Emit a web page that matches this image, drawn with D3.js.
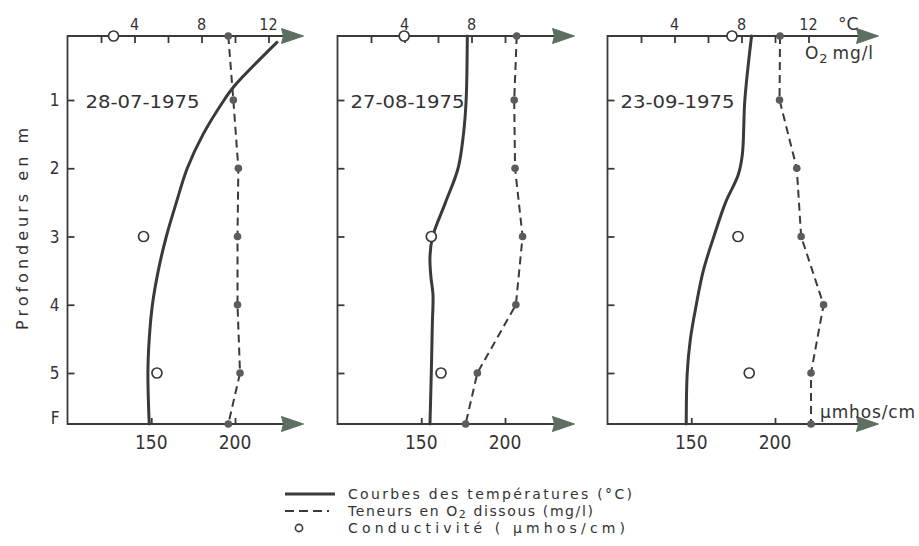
<!DOCTYPE html>
<html>
<head>
<meta charset="utf-8">
<script src="https://cdn.jsdelivr.net/npm/d3@7/dist/d3.min.js"></script>
<style>
  html, body { margin: 0; padding: 0; background: #ffffff; }
  svg { display: block; }
  text { font-family: "DejaVu Sans", "Liberation Sans", sans-serif; fill: #333; }
  .num { font-stretch: condensed; }
</style>
</head>
<body>
<svg id="chart" width="919" height="546"></svg>
<script>
// Sampling dates, one profile per panel
const dates = ["28-07-1975", "27-08-1975", "23-09-1975"];

// Depth levels of the measurements (m); 5.75 stands for the bottom "F" (fond)
const depthLevels = [0, 1, 2, 3, 4, 5, 5.75];
const depthTicks = [1, 2, 3, 4, 5, 5.75];
const depthTickLabels = ["1", "2", "3", "4", "5", "F"];

// Top axis ticks (°C and mg/l share the same scale)
const topTicks = [2, 4, 6, 8, 10, 12];
const topTicksP2 = [2, 4, 6, 8, 10];
const topLabels = [4, 8, 12];
const topLabelsP2 = [4, 8];

// Bottom axis ticks (conductivity, µmhos/cm)
const condTicks = [150, 200];

// Dissolved oxygen (mg/l) at depthLevels
const o2P1 = [9.6, 9.9, 10.2, 10.15, 10.15, 10.3, 9.6];
const o2P2 = [10.7, 10.55, 10.6, 11.05, 10.65, 8.35, 7.65];
const o2P3 = [10.3, 10.27, 11.3, 11.56, 12.9, 12.15, 12.15];

// Conductivity (µmhos/cm) measured at 0, 3 and 5 m
const condDepths = [0, 3, 5];
const condP1 = [127.5, 145.4, 153.4];
const condP2 = [139.8, 156, 161.8];
const condP3 = [174.3, 177.9, 184.6];

// Temperature profiles (°C): [depth, temperature]
const tempP1 = [[0.1, 12.5], [0.8, 9.9], [1, 9.35], [1.5, 8.1], [2, 7.15], [2.5, 6.5], [3, 5.9],
                [3.5, 5.42], [4, 5.07], [4.5, 4.88], [5, 4.8], [5.75, 4.88]];
const tempP2 = [[0, 7.75], [1, 7.68], [1.5, 7.52], [2, 7.2], [2.5, 6.45], [3, 5.68], [3.3, 5.52],
                [3.6, 5.58], [3.85, 5.7], [4.3, 5.66], [5, 5.6], [5.75, 5.52]];
const tempP3 = [[0, 8.6], [1, 8.2], [1.8, 8.05], [2.1, 7.8], [2.5, 7.05], [3, 6.35], [3.5, 5.72],
                [4, 5.3], [4.5, 4.95], [5, 4.76], [5.75, 4.7]];

const panels = [
  { date: dates[0], o2: o2P1, cond: condP1, temp: tempP1, ticks: topTicks, labels: topLabels, x0: 67.5, len: 236, dateDx: 18 },
  { date: dates[1], o2: o2P2, cond: condP2, temp: tempP2, ticks: topTicksP2, labels: topLabelsP2, x0: 337.5, len: 237, dateDx: 13 },
  { date: dates[2], o2: o2P3, cond: condP3, temp: tempP3, ticks: topTicks, labels: topLabels, x0: 607.5, len: 271, dateDx: 13 }
];

const svg = d3.select("#chart");
const ink = "#3a3a3a";
const arrowFill = "#5f6e63";

const yTop = 36, yBottom = 424;
// Depth scale: surface on the top axis, bottom ("F") on the lower axis
const y = d3.scaleLinear().domain([0, 1, 5, 5.75]).range([yTop, 100, 373, yBottom]);

function arrow(g, xTip, yy) {
  g.append("path")
    .attr("d", `M${xTip},${yy} L${xTip - 22},${yy - 7.5} L${xTip - 20},${yy} L${xTip - 22},${yy + 7.5} Z`)
    .attr("fill", arrowFill).attr("stroke", arrowFill).attr("stroke-width", 1).attr("stroke-linejoin", "round");
}

panels.forEach((p, i) => {
  const g = svg.append("g");
  const xT = d3.scaleLinear().domain([0, 14]).range([p.x0, p.x0 + 234.5]);   // °C and mg/l
  const xC = d3.scaleLinear().domain([100, 240]).range([p.x0, p.x0 + 234.5]); // µmhos/cm
  const xEnd = p.x0 + p.len;

  // Axis lines
  g.append("path")
    .attr("d", `M${xEnd - 18},${yTop} H${p.x0} V${yBottom} H${xEnd - 18}`)
    .attr("fill", "none").attr("stroke", ink).attr("stroke-width", 1.8);
  arrow(g, xEnd, yTop);
  arrow(g, xEnd, yBottom);

  // Top axis: ticks pointing inward
  const top = g.append("g").attr("transform", `translate(0,${yTop})`)
    .call(d3.axisTop(xT).tickValues(p.ticks).tickSizeInner(-7).tickSizeOuter(0).tickFormat(() => ""));
  top.select(".domain").remove();
  top.selectAll(".tick line").attr("stroke", ink).attr("stroke-width", 1.8);

  g.selectAll(".toplab").data(p.labels).enter().append("text")
    .attr("class", "num")
    .attr("x", d => xT(d)).attr("y", 30).attr("text-anchor", "middle")
    .attr("font-size", 16).text(d => d);

  // Bottom axis: conductivity ticks pointing upward
  const bot = g.append("g").attr("transform", `translate(0,${yBottom})`)
    .call(d3.axisBottom(xC).tickValues(condTicks).tickSizeInner(-6).tickSizeOuter(0).tickFormat(() => ""));
  bot.select(".domain").remove();
  bot.selectAll(".tick line").attr("stroke", ink).attr("stroke-width", 1.8);

  g.selectAll(".botlab").data(condTicks).enter().append("text")
    .attr("class", "num")
    .attr("x", d => xC(d)).attr("y", 449).attr("text-anchor", "middle")
    .attr("font-size", 19).text(d => d);

  // Left axis: depth ticks pointing inward
  const left = g.append("g").attr("transform", `translate(${p.x0},0)`)
    .call(d3.axisLeft(y).tickValues(depthTicks.slice(0, 5)).tickSizeInner(-7).tickSizeOuter(0).tickFormat(() => ""));
  left.select(".domain").remove();
  left.selectAll(".tick line").attr("stroke", ink).attr("stroke-width", 1.8);

  if (i === 0) {
    g.selectAll(".deplab").data(depthTicks).enter().append("text")
      .attr("class", "num")
      .attr("x", p.x0 - 8).attr("y", d => y(d) + (d === 5.75 ? -6 : 0)).attr("dy", "0.36em")
      .attr("text-anchor", "end").attr("font-size", 17)
      .text((d, k) => depthTickLabels[k]);
  }

  // Date label
  g.append("text").attr("class", "num").attr("x", p.x0 + p.dateDx).attr("y", 108)
    .attr("font-size", 17).attr("textLength", 114).attr("lengthAdjust", "spacingAndGlyphs")
    .text(p.date);

  // Temperature curve
  const line = d3.line().x(d => xT(d[1])).y(d => y(d[0])).curve(d3.curveCatmullRom.alpha(0.5));
  g.append("path").datum(p.temp).attr("d", line)
    .attr("fill", "none").attr("stroke", ink).attr("stroke-width", 3).attr("stroke-linecap", "round");

  // Dissolved oxygen profile
  const o2 = depthLevels.map((d, k) => [d, p.o2[k]]);
  const o2line = d3.line().x(d => xT(d[1])).y(d => y(d[0]));
  g.append("path").datum(o2).attr("d", o2line)
    .attr("fill", "none").attr("stroke", ink).attr("stroke-width", 2)
    .attr("stroke-dasharray", "8,5");
  g.selectAll(".o2dot").data(o2).enter().append("circle")
    .attr("cx", d => xT(d[1])).attr("cy", d => y(d[0])).attr("r", 3.8)
    .attr("fill", "#5c5c5c");

  // Conductivity points
  g.selectAll(".cond").data(condDepths.map((d, k) => [d, p.cond[k]])).enter().append("circle")
    .attr("cx", d => xC(d[1])).attr("cy", d => y(d[0])).attr("r", 5)
    .attr("fill", "#fff").attr("stroke", ink).attr("stroke-width", 1.7);
});

// Units on the right-hand panel
svg.append("text").attr("x", 838).attr("y", 30).attr("font-size", 17).text("°C");
const o2unit = svg.append("text").attr("x", 805).attr("y", 59).attr("font-size", 17)
  .attr("textLength", 68).attr("lengthAdjust", "spacing");
o2unit.append("tspan").text("O");
o2unit.append("tspan").attr("font-size", 13).attr("dy", 4).text("2");
o2unit.append("tspan").attr("dy", -4).attr("dx", 4).text("mg/l");
svg.append("text").attr("x", 820).attr("y", 418).attr("font-size", 17)
  .attr("textLength", 95).attr("lengthAdjust", "spacing").text("µmhos/cm");

// Vertical axis title
svg.append("text")
  .attr("transform", "translate(28,229) rotate(-90)")
  .attr("text-anchor", "middle").attr("font-size", 16)
  .attr("textLength", 202).attr("lengthAdjust", "spacing")
  .text("Profondeurs en m");

// Legend
const lg = svg.append("g");
lg.append("line").attr("x1", 285).attr("x2", 335).attr("y1", 494).attr("y2", 494)
  .attr("stroke", ink).attr("stroke-width", 3);
lg.append("line").attr("x1", 285).attr("x2", 335).attr("y1", 511).attr("y2", 511)
  .attr("stroke", ink).attr("stroke-width", 2).attr("stroke-dasharray", "9,5,9,5,9,5,2");
lg.append("circle").attr("cx", 299).attr("cy", 528).attr("r", 3.6)
  .attr("fill", "none").attr("stroke", ink).attr("stroke-width", 1.6);

lg.append("text").attr("x", 348).attr("y", 499).attr("font-size", 14)
  .attr("textLength", 284).attr("lengthAdjust", "spacing").text("Courbes des températures (°C)");
const t2 = lg.append("text").attr("x", 348).attr("y", 516).attr("font-size", 14)
  .attr("letter-spacing", 1.6);
t2.append("tspan").text("Teneurs  en O");
t2.append("tspan").attr("font-size", 11).attr("dy", 1.5).text("2");
t2.append("tspan").attr("dy", -1.5).text(" dissous (mg/l)");
lg.append("text").attr("x", 348).attr("y", 533).attr("font-size", 14)
  .attr("textLength", 277).attr("lengthAdjust", "spacing").text("Conductivité ( µmhos/cm)");
</script>
</body>
</html>
